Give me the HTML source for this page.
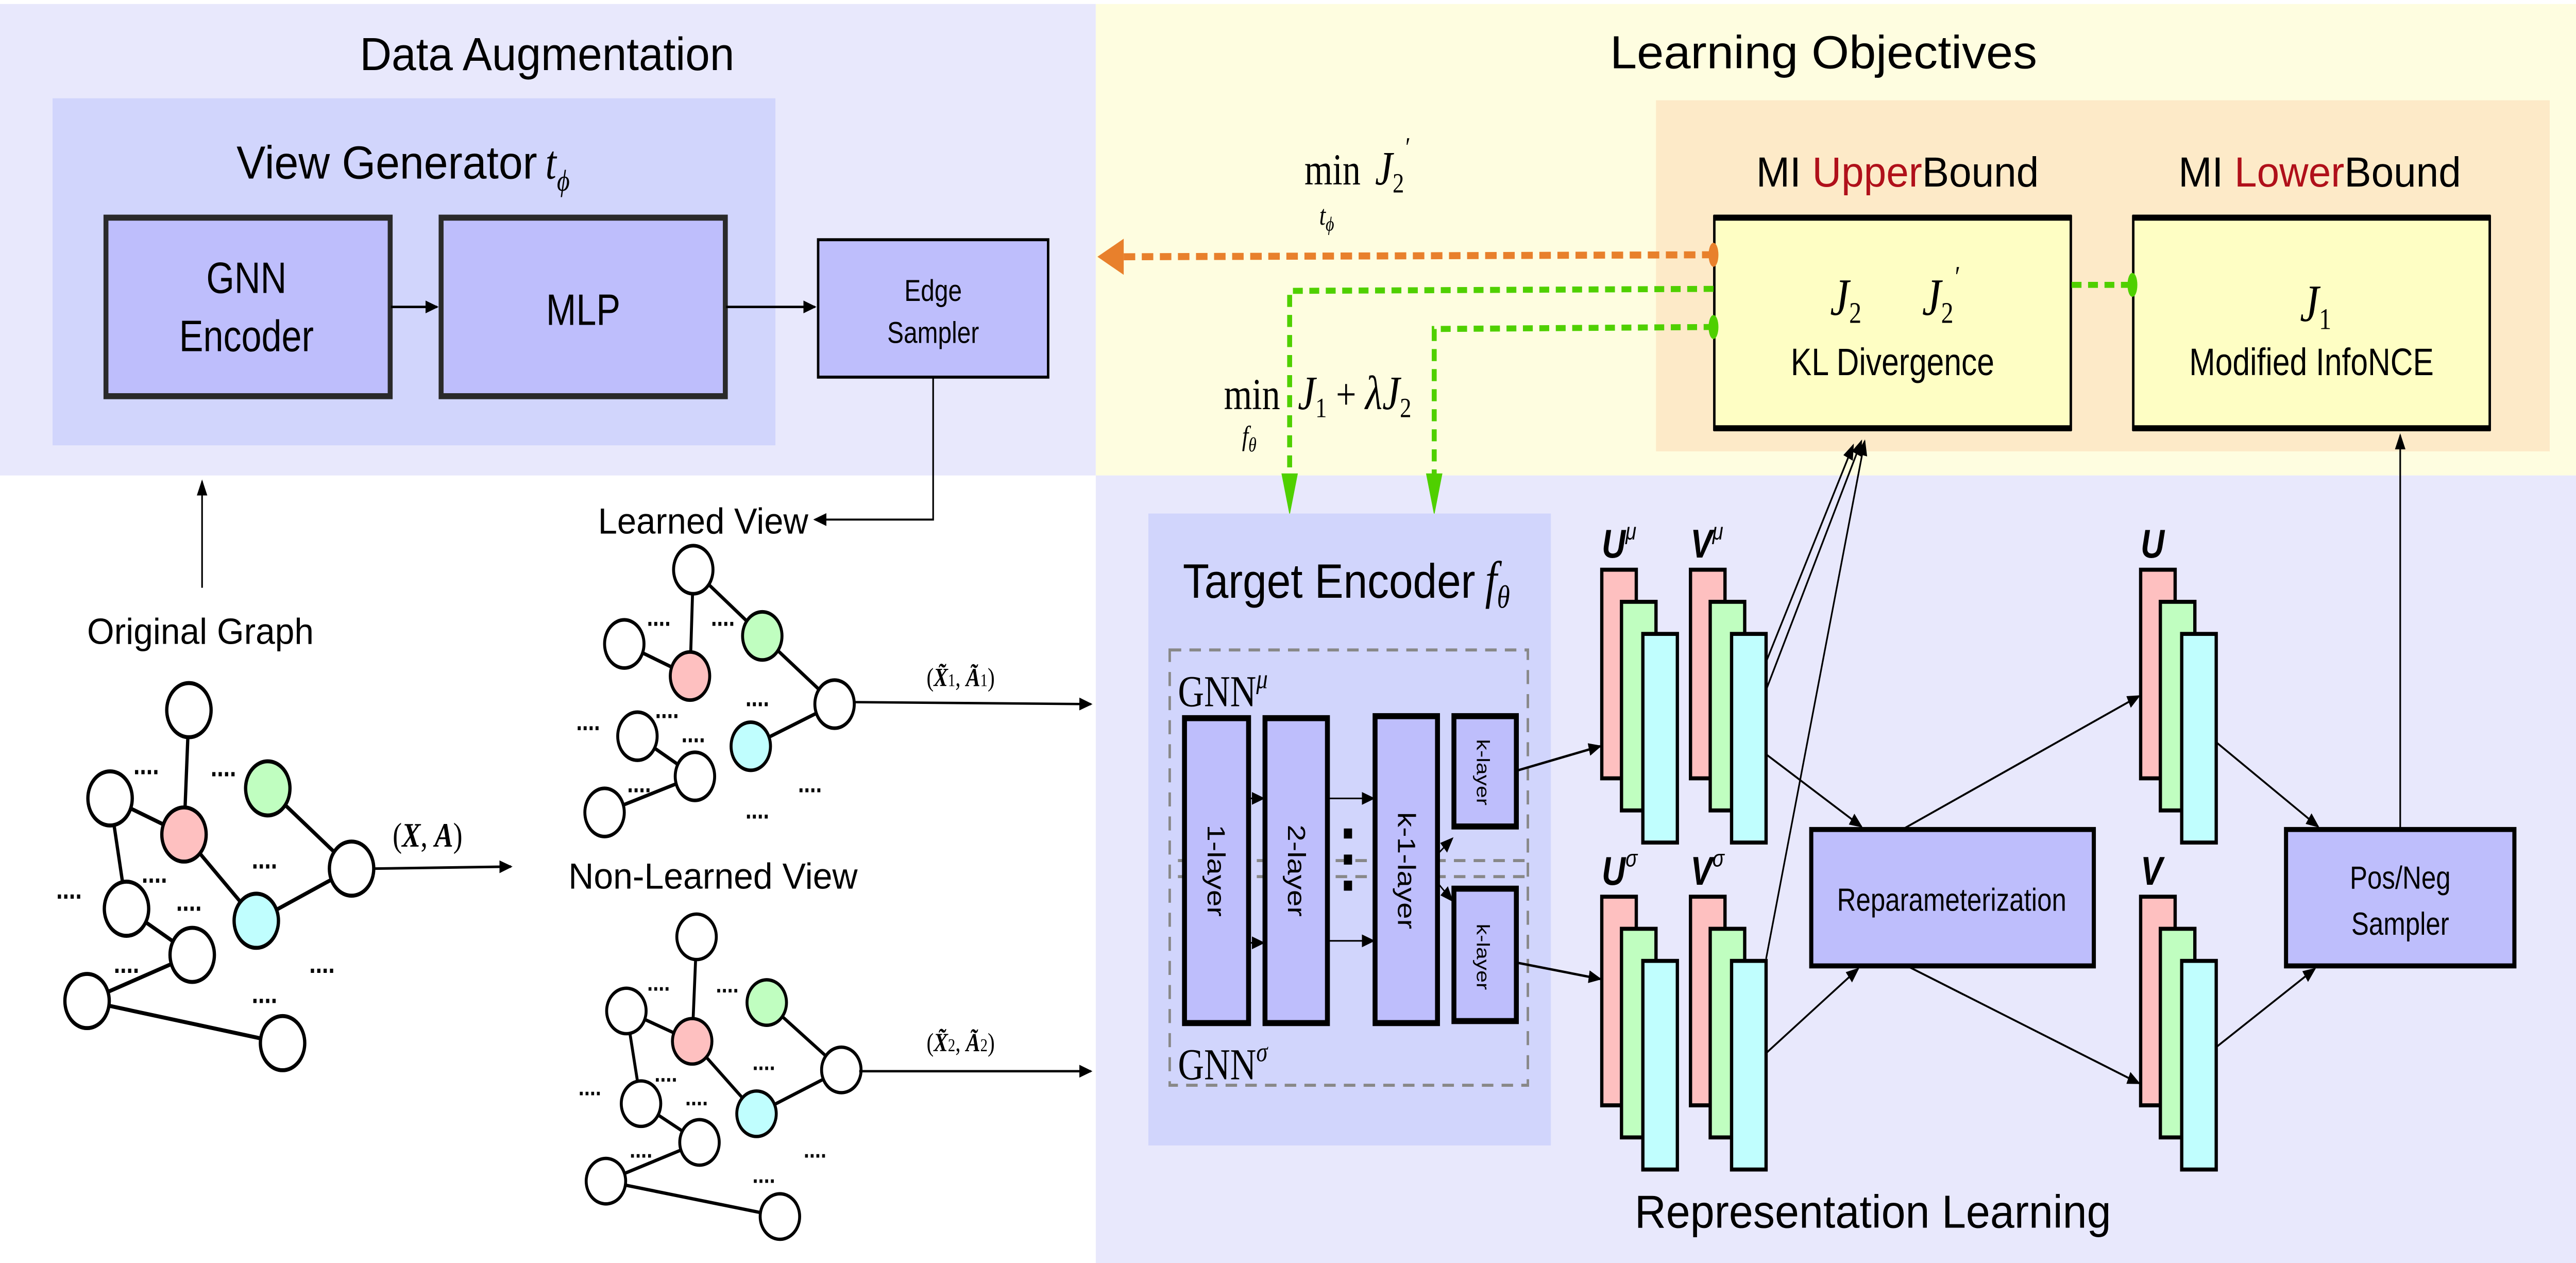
<!DOCTYPE html>
<html><head><meta charset="utf-8"><style>
html,body{margin:0;padding:0;background:#fff;overflow:hidden;width:100vw;height:100vh;}
svg{display:block;width:100vw;height:100vh;}
text{font-family:"Liberation Sans",sans-serif;}
.m{font-family:"Liberation Serif",serif;font-style:italic;}
.r{font-family:"Liberation Serif",serif;}
</style></head><body>
<svg viewBox="0 0 1568 629.6" preserveAspectRatio="none" xmlns="http://www.w3.org/2000/svg">
<defs>
<marker id="ah" markerWidth="8" markerHeight="8" refX="7" refY="4" orient="auto" markerUnits="userSpaceOnUse"><path d="M0,0.8 L8,4 L0,7.2 z" fill="#000"/></marker>
</defs>
<rect x="0" y="0" width="1568" height="629.6" fill="#fff"/>
<rect x="0" y="2" width="667" height="235" fill="#e8e8fc"/>
<rect x="667" y="2" width="901" height="235" fill="#fefde0"/>
<rect x="667" y="237" width="901" height="393" fill="#e8e8fc"/>
<rect x="1008" y="50" width="544" height="175" fill="#fdeac8"/>
<text x="333" y="35" font-size="23" text-anchor="middle" textLength="228" lengthAdjust="spacingAndGlyphs">Data Augmentation</text>
<text x="1110" y="34" font-size="23" text-anchor="middle" textLength="260" lengthAdjust="spacingAndGlyphs">Learning Objectives</text>
<text x="1140" y="612" font-size="23" text-anchor="middle" textLength="290" lengthAdjust="spacingAndGlyphs">Representation Learning</text>
<rect x="32" y="49" width="440" height="173" fill="#d1d5fc"/>
<text x="144" y="89" font-size="23" textLength="183" lengthAdjust="spacingAndGlyphs">View Generator</text><text x="332" y="89" font-size="24" class="m">t</text><text x="339" y="95" font-size="15" class="m">ϕ</text>
<rect x="64.5" y="108.5" width="173" height="89" fill="#bebefc" stroke="#2a2a2a" stroke-width="3"/>
<rect x="268.5" y="108.5" width="173" height="89" fill="#bebefc" stroke="#2a2a2a" stroke-width="3"/>
<text x="150" y="146" font-size="22" text-anchor="middle">GNN</text>
<text x="150" y="175" font-size="22" text-anchor="middle">Encoder</text>
<text x="355" y="162" font-size="22" text-anchor="middle">MLP</text>
<line x1="238" y1="153" x2="266" y2="153" stroke="#000" stroke-width="1.2" marker-end="url(#ah)"/>
<line x1="442" y1="153" x2="496" y2="153" stroke="#000" stroke-width="1.2" marker-end="url(#ah)"/>
<rect x="498" y="119.5" width="140" height="68.5" fill="#bebefc" stroke="#000" stroke-width="1.5"/>
<text x="568" y="150" font-size="15" text-anchor="middle">Edge</text>
<text x="568" y="171" font-size="15" text-anchor="middle">Sampler</text>
<polyline points="568,188 568,259 496,259" fill="none" stroke="#000" stroke-width="1" marker-end="url(#ah)"/>
<text x="364" y="266" font-size="18" textLength="128" lengthAdjust="spacingAndGlyphs">Learned View</text>
<text x="53" y="321" font-size="18" textLength="138" lengthAdjust="spacingAndGlyphs">Original Graph</text>
<line x1="123" y1="293" x2="123" y2="240" stroke="#000" stroke-width="1" marker-end="url(#ah)"/>
<text x="346" y="443" font-size="18" textLength="176" lengthAdjust="spacingAndGlyphs">Non-Learned View</text>
<g stroke="#000" stroke-width="2" fill="#fff">
<line x1="115" y1="354" x2="112" y2="416"/><line x1="67" y1="398" x2="112" y2="416"/><line x1="67" y1="398" x2="77" y2="453"/>
<line x1="112" y1="416" x2="156" y2="459"/><line x1="163" y1="393" x2="214" y2="433"/><line x1="214" y1="433" x2="156" y2="459"/>
<line x1="77" y1="453" x2="117" y2="476"/><line x1="117" y1="476" x2="53" y2="499"/><line x1="53" y1="499" x2="172" y2="520"/>
<circle cx="115" cy="354" r="13.5"/><circle cx="67" cy="398" r="13.5"/><circle cx="112" cy="416" r="13.5" fill="#fec0c0"/>
<circle cx="163" cy="393" r="13.5" fill="#c0fec0"/><circle cx="214" cy="433" r="13.5"/><circle cx="77" cy="453" r="13.5"/>
<circle cx="156" cy="459" r="13.5" fill="#c0fefe"/><circle cx="117" cy="476" r="13.5"/><circle cx="53" cy="499" r="13.5"/><circle cx="172" cy="520" r="13.5"/>
</g>
<g font-size="14" font-weight="bold" text-anchor="middle" class="r">
<text x="89" y="386">....</text><text x="136" y="387">....</text><text x="161" y="433">....</text><text x="94" y="440">....</text>
<text x="42" y="448">....</text><text x="115" y="454">....</text><text x="77" y="485">....</text><text x="196" y="485">....</text><text x="161" y="500">....</text>
</g>
<line x1="228" y1="433" x2="311" y2="432" stroke="#000" stroke-width="1.3" marker-end="url(#ah)"/>
<text x="239" y="422" font-size="17" class="r">(<tspan class="m" font-weight="bold">X</tspan>, <tspan class="m" font-weight="bold">A</tspan>)</text>
<g stroke="#000" stroke-width="1.8" fill="#fff">
<line x1="422" y1="284" x2="420" y2="337"/><line x1="422" y1="284" x2="464" y2="317"/><line x1="380" y1="321" x2="420" y2="337"/>
<line x1="464" y1="317" x2="508" y2="351"/><line x1="508" y1="351" x2="457" y2="372"/><line x1="388" y1="367" x2="423" y2="387"/><line x1="423" y1="387" x2="368" y2="405"/>
<circle cx="422" cy="284" r="12"/><circle cx="380" cy="321" r="12"/><circle cx="420" cy="337" r="12" fill="#fec0c0"/>
<circle cx="464" cy="317" r="12" fill="#c0fec0"/><circle cx="508" cy="351" r="12"/><circle cx="388" cy="367" r="12"/>
<circle cx="457" cy="372" r="12" fill="#c0fefe"/><circle cx="423" cy="387" r="12"/><circle cx="368" cy="405" r="12"/>
</g>
<g font-size="13" font-weight="bold" text-anchor="middle" class="r">
<text x="401" y="312">....</text><text x="440" y="312">....</text><text x="461" y="352">....</text><text x="358" y="364">....</text>
<text x="406" y="358">....</text><text x="422" y="370">....</text><text x="389" y="395">....</text><text x="493" y="395">....</text><text x="461" y="408">....</text>
</g>
<line x1="520" y1="350" x2="664" y2="351" stroke="#000" stroke-width="1.2" marker-end="url(#ah)"/>
<text x="564" y="342" font-size="13" class="r">(<tspan class="m" font-weight="bold">X̃</tspan><tspan font-size="9">1</tspan>, <tspan class="m" font-weight="bold">Ã</tspan><tspan font-size="9">1</tspan>)</text>
<g transform="translate(424,467) scale(0.89,0.84) translate(-115,-354)">
<g stroke="#000" stroke-width="2" fill="#fff">
<line x1="115" y1="354" x2="112" y2="416"/><line x1="67" y1="398" x2="112" y2="416"/><line x1="67" y1="398" x2="77" y2="453"/>
<line x1="112" y1="416" x2="156" y2="459"/><line x1="163" y1="393" x2="214" y2="433"/><line x1="214" y1="433" x2="156" y2="459"/>
<line x1="77" y1="453" x2="117" y2="476"/><line x1="117" y1="476" x2="53" y2="499"/><line x1="53" y1="499" x2="172" y2="520"/>
<circle cx="115" cy="354" r="13.5"/><circle cx="67" cy="398" r="13.5"/><circle cx="112" cy="416" r="13.5" fill="#fec0c0"/>
<circle cx="163" cy="393" r="13.5" fill="#c0fec0"/><circle cx="214" cy="433" r="13.5"/><circle cx="77" cy="453" r="13.5"/>
<circle cx="156" cy="459" r="13.5" fill="#c0fefe"/><circle cx="117" cy="476" r="13.5"/><circle cx="53" cy="499" r="13.5"/><circle cx="172" cy="520" r="13.5"/>
</g>
<g font-size="14" font-weight="bold" text-anchor="middle" class="r">
<text x="89" y="386">....</text><text x="136" y="387">....</text><text x="161" y="433">....</text><text x="94" y="440">....</text>
<text x="42" y="448">....</text><text x="115" y="454">....</text><text x="77" y="485">....</text><text x="196" y="485">....</text><text x="161" y="500">....</text>
</g>
</g>
<line x1="523" y1="534" x2="664" y2="534" stroke="#000" stroke-width="1.2" marker-end="url(#ah)"/>
<text x="564" y="524" font-size="13" class="r">(<tspan class="m" font-weight="bold">X̃</tspan><tspan font-size="9">2</tspan>, <tspan class="m" font-weight="bold">Ã</tspan><tspan font-size="9">2</tspan>)</text>
<text x="1155" y="93" font-size="21" text-anchor="middle" textLength="172" lengthAdjust="spacingAndGlyphs">MI <tspan fill="#b0101a">Upper</tspan>Bound</text>
<text x="1412" y="93" font-size="21" text-anchor="middle" textLength="172" lengthAdjust="spacingAndGlyphs">MI <tspan fill="#b0101a">Lower</tspan>Bound</text>
<rect x="1043.5" y="108" width="217" height="106" fill="#fefec4" stroke="#000" stroke-width="1.5"/>
<line x1="1043" y1="108.5" x2="1261" y2="108.5" stroke="#000" stroke-width="3"/><line x1="1043" y1="213.5" x2="1261" y2="213.5" stroke="#000" stroke-width="3"/>
<rect x="1298.5" y="108" width="217" height="106" fill="#fefec4" stroke="#000" stroke-width="1.5"/>
<line x1="1298" y1="108.5" x2="1516" y2="108.5" stroke="#000" stroke-width="3"/><line x1="1298" y1="213.5" x2="1516" y2="213.5" stroke="#000" stroke-width="3"/>
<text x="1114" y="157" font-size="26" class="m">J<tspan font-size="15" font-style="normal" dy="4">2</tspan></text>
<text x="1170" y="157" font-size="26" class="m">J<tspan font-size="15" font-style="normal" dy="4">2</tspan><tspan font-size="15" dy="-18">′</tspan></text>
<text x="1152" y="187" font-size="19" text-anchor="middle">KL Divergence</text>
<text x="1400" y="160" font-size="26" class="m">J<tspan font-size="15" font-style="normal" dy="4">1</tspan></text>
<text x="1407" y="187" font-size="19" text-anchor="middle">Modified InfoNCE</text>
<text x="794" y="92" font-size="22" class="r">min</text><text x="837" y="92" font-size="24" class="m">J<tspan font-size="14" font-style="normal" dy="4">2</tspan><tspan font-size="14" dy="-18">′</tspan></text>
<text x="803" y="112" font-size="14" class="m">t<tspan font-size="10" dy="3">ϕ</tspan></text>
<text x="745" y="204" font-size="22" class="r">min</text><text x="790" y="204" font-size="24" class="m">J<tspan font-size="14" font-style="normal" dy="4">1</tspan><tspan font-style="normal" font-size="22" dy="-4"> + </tspan>λJ<tspan font-size="14" font-style="normal" dy="4">2</tspan></text>
<text x="756" y="222" font-size="14" class="m">f<tspan font-size="10" dy="3">θ</tspan></text>
<line x1="1043" y1="127" x2="684" y2="128" stroke="#e8802c" stroke-width="3.5" stroke-dasharray="7,4"/>
<path d="M668,128 L684,119 L684,137 z" fill="#e8802c"/>
<ellipse cx="1043" cy="127" rx="3" ry="6" fill="#e8802c"/>
<polyline points="1043,144 785,145 785,238" fill="none" stroke="#4fd000" stroke-width="3" stroke-dasharray="6,4"/>
<polyline points="1043,163 873,164 873,238" fill="none" stroke="#4fd000" stroke-width="3" stroke-dasharray="6,4"/>
<path d="M780,236 L790,236 L785,257 z" fill="#4fd000"/><path d="M868,236 L878,236 L873,257 z" fill="#4fd000"/>
<ellipse cx="1043" cy="163" rx="3" ry="6" fill="#4fd000"/>
<line x1="1261" y1="142" x2="1298" y2="142" stroke="#4fd000" stroke-width="3" stroke-dasharray="6,4"/>
<ellipse cx="1298" cy="142" rx="3" ry="6" fill="#4fd000"/>
<rect x="699" y="256" width="245" height="315" fill="#d1d5fc"/>
<text x="720" y="298" font-size="24" textLength="178" lengthAdjust="spacingAndGlyphs">Target Encoder</text><text x="904" y="298" font-size="26" class="m">f<tspan font-size="16" dy="5">θ</tspan></text>
<rect x="712" y="324" width="218" height="217" fill="none" stroke="#888" stroke-width="1.5" stroke-dasharray="7,5"/>
<line x1="717" y1="429" x2="930" y2="429" stroke="#888" stroke-width="1.5" stroke-dasharray="7,5"/>
<line x1="717" y1="437" x2="930" y2="437" stroke="#888" stroke-width="1.5" stroke-dasharray="7,5"/>
<text x="717" y="352" font-size="22" class="r">GNN<tspan font-size="14" class="m" dy="-9">μ</tspan></text>
<text x="717" y="538" font-size="22" class="r">GNN<tspan font-size="14" class="m" dy="-9">σ</tspan></text>
<g fill="#bebefc" stroke="#000" stroke-width="3">
<rect x="721" y="358" width="39" height="152"/>
<rect x="770" y="358" width="38" height="152"/>
<rect x="837" y="357" width="38" height="153"/>
<rect x="885" y="357" width="38" height="55"/>
<rect x="885" y="443" width="38" height="66"/>
</g>
<g font-size="15">
<text transform="translate(735,434) rotate(90)" text-anchor="middle">1-layer</text>
<text transform="translate(784,434) rotate(90)" text-anchor="middle">2-layer</text>
<text transform="translate(851,434) rotate(90)" text-anchor="middle">k-1-layer</text>
<text transform="translate(899,385) rotate(90)" text-anchor="middle" font-size="11">k-layer</text>
<text transform="translate(899,477) rotate(90)" text-anchor="middle" font-size="11">k-layer</text>
</g>
<rect x="818" y="413" width="5" height="5"/><rect x="818" y="426" width="5" height="5"/><rect x="818" y="439" width="5" height="5"/>
<g stroke="#000" stroke-width="0.8" marker-end="url(#ah)">
<line x1="761" y1="398" x2="769" y2="398"/><line x1="761" y1="470" x2="769" y2="470"/>
<line x1="809" y1="398" x2="836" y2="398"/><line x1="809" y1="469" x2="836" y2="469"/>
<line x1="876" y1="425" x2="884" y2="418"/><line x1="876" y1="441" x2="884" y2="449"/>
</g>
<line x1="924" y1="384" x2="974" y2="372" stroke="#000" stroke-width="1.2" marker-end="url(#ah)"/>
<line x1="924" y1="480" x2="974" y2="488" stroke="#000" stroke-width="1.2" marker-end="url(#ah)"/>
<g stroke="#000" stroke-width="2">
<g id="stk">
<rect x="975" y="284" width="21" height="104" fill="#fec0c0"/>
<rect x="987" y="300" width="21" height="104" fill="#c0fec0"/>
<rect x="1000" y="316" width="21" height="104" fill="#c0fefe"/>
</g>
<use href="#stk" x="54" y="0"/>
<use href="#stk" x="0" y="163"/>
<use href="#stk" x="54" y="163"/>
<use href="#stk" x="328" y="0"/>
<use href="#stk" x="328" y="163"/>
</g>
<g font-size="20" class="m" font-weight="bold">
<text x="975" y="278">U<tspan font-size="12" font-weight="normal" dy="-9">μ</tspan></text>
<text x="1029" y="278">V<tspan font-size="12" font-weight="normal" dy="-9">μ</tspan></text>
<text x="975" y="441">U<tspan font-size="12" font-weight="normal" dy="-9">σ</tspan></text>
<text x="1029" y="441">V<tspan font-size="12" font-weight="normal" dy="-9">σ</tspan></text>
<text x="1303" y="278">U</text>
<text x="1303" y="441">V</text>
</g>
<rect x="1102.5" y="413.5" width="172" height="68" fill="#bebefc" stroke="#000" stroke-width="2.5"/>
<text x="1188" y="454" font-size="16" text-anchor="middle">Reparameterization</text>
<rect x="1391.5" y="413.5" width="139" height="68" fill="#bebefc" stroke="#000" stroke-width="2.5"/>
<text x="1461" y="443" font-size="16" text-anchor="middle">Pos/Neg</text>
<text x="1461" y="466" font-size="16" text-anchor="middle">Sampler</text>
<g stroke="#000" stroke-width="1" marker-end="url(#ah)">
<line x1="1075" y1="376" x2="1133" y2="412"/>
<line x1="1075" y1="525" x2="1131" y2="483"/>
<line x1="1075" y1="344" x2="1133" y2="220"/>
<line x1="1075" y1="478" x2="1135" y2="220"/>
<line x1="1075" y1="330" x2="1128" y2="222"/>
<line x1="1159" y1="413" x2="1302" y2="347"/>
<line x1="1162" y1="482" x2="1302" y2="540"/>
<line x1="1349" y1="370" x2="1411" y2="412"/>
<line x1="1349" y1="522" x2="1409" y2="483"/>
<line x1="1461" y1="413" x2="1461" y2="217"/>
</g>
</svg>
</body></html>
